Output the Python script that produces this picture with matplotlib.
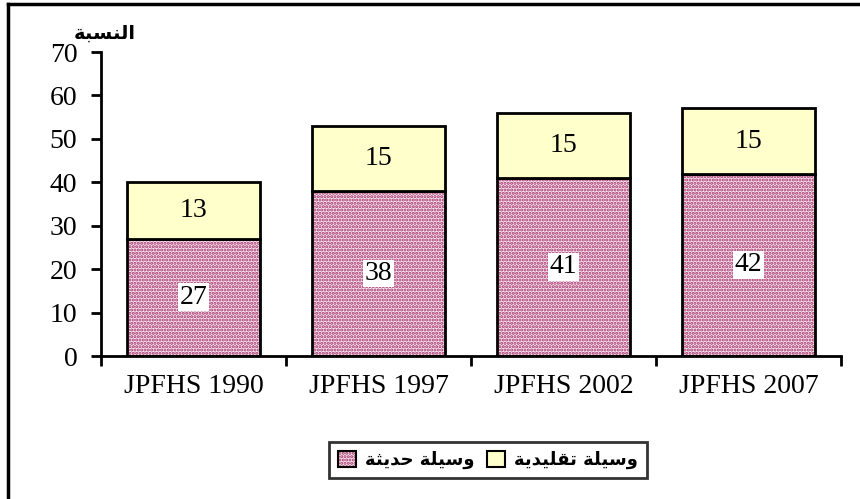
import matplotlib.pyplot as plt
import numpy as np
from matplotlib.patches import Rectangle
from matplotlib.lines import Line2D

# data
surveys = ['JPFHS 1990', 'JPFHS 1997', 'JPFHS 2002', 'JPFHS 2007']
modern = [27, 38, 41, 42]
traditional = [13, 15, 15, 15]
# Arabic labels pre-shaped (presentation forms, visual order) since matplotlib does no shaping
ylabel_txt = '\uFE94\uFE92\uFEB4\uFEE8\uFEDF\uFE8D'            # النسبة
modern_txt = '\uFE94\uFE9C\uFEF3\uFEAA\uFEA3 \uFE94\uFEE0\uFEF4\uFEB3\uFEED'   # وسيلة حديثة
trad_txt = '\uFE94\uFEF3\uFEAA\uFEF4\uFEE0\uFED8\uFE97 \uFE94\uFEE0\uFEF4\uFEB3\uFEED'  # وسيلة تقليدية

plt.rcParams['font.family'] = ['Liberation Serif', 'DejaVu Serif']
plt.rcParams['hatch.linewidth'] = 1.5

fig = plt.figure(figsize=(8.6, 4.99), dpi=100)
ax = fig.add_axes([101/860, 1 - 356/499, 740/860, 304/499])

x = np.arange(len(surveys))
width = 0.72
fs = 20
pink = '#f7e4ee'
dots = '#a33068'

# hatched modern bars: hatch drawn with edge colour, outline drawn separately
ax.bar(x, modern, width, color=pink, edgecolor=dots, hatch='.....', linewidth=0)
ax.bar(x, modern, width, color='none', edgecolor='black', linewidth=2)
ax.bar(x, traditional, width, bottom=modern, color='#ffffcc', edgecolor='black', linewidth=2)

for i in range(len(surveys)):
    ax.text(x[i], modern[i] / 2, str(modern[i]), ha='center', va='center', fontsize=fs,
            bbox=dict(facecolor='white', edgecolor='none', pad=1))
    ax.text(x[i], modern[i] + traditional[i] / 2, str(traditional[i]), ha='center', va='center',
            fontsize=fs)

ax.set_xlim(-0.5, 3.5)
ax.set_ylim(0, 70)
ax.set_yticks(range(0, 71, 10))
ax.set_xticks(np.arange(-0.5, 4, 1), minor=False)
ax.set_xticklabels([])
ax.set_xticks(x, minor=True)
ax.set_xticklabels(surveys, minor=True)
ax.tick_params(axis='x', which='minor', length=0, pad=13, labelsize=fs)
ax.tick_params(axis='x', which='major', direction='out', length=7, width=2)
ax.tick_params(axis='y', direction='out', length=7, width=2, labelsize=fs, pad=10)
for s in ['top', 'right']:
    ax.spines[s].set_visible(False)
ax.spines['left'].set_linewidth(2)
ax.spines['bottom'].set_linewidth(2)

fig.text(105/860, 1 - 33/499, ylabel_txt, ha='center', va='center', fontsize=14,
         family='DejaVu Sans', fontweight='bold')

# legend
hatched_key = Rectangle((0, 0), 1, 1, facecolor=pink, edgecolor=dots, hatch='.....', linewidth=0)
outline_key = Rectangle((0, 0), 1, 1, facecolor='none', edgecolor='black', linewidth=1.5)
yellow_key = Rectangle((0, 0), 1, 1, facecolor='#ffffcc', edgecolor='black', linewidth=1.5)
leg = fig.legend([(hatched_key, outline_key), yellow_key], [modern_txt, trad_txt], ncol=2,
                 loc='center', bbox_to_anchor=(488/860, 1 - 460/499), frameon=True,
                 fancybox=False, edgecolor='black',
                 prop=dict(family='DejaVu Sans', weight='bold', size=13),
                 handlelength=1.0, handleheight=1.0, columnspacing=0.7, handletextpad=0.5,
                 borderpad=0.5, borderaxespad=0)
leg.get_frame().set_linewidth(2)

# outer frame (left and top edges visible)
fig.add_artist(Line2D([8/860, 8/860], [0, 1 - 4/499], color='black', lw=2.5))
fig.add_artist(Line2D([8/860, 1], [1 - 4/499, 1 - 4/499], color='black', lw=2.5))

fig.savefig('out.png', dpi=100)
